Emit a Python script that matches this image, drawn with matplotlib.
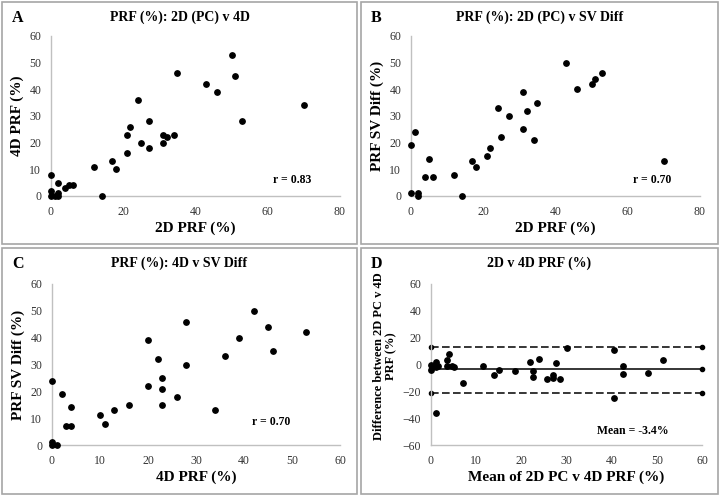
import numpy as np
import matplotlib
matplotlib.use('Agg')
import matplotlib.pyplot as plt
from matplotlib.patches import Rectangle

plt.rcParams['font.family'] = ['Liberation Serif', 'DejaVu Serif']

# panel A: 2D (PC) vs 4D
a_x = [0, 0, 0, 1, 2, 2, 2, 4, 5, 6, 12, 14, 17, 18, 21, 21, 22, 24, 25, 27, 27,
       31, 31, 32, 34, 35, 43, 46, 50, 51, 53, 70]
a_y = [8, 2, 0, 0, 5, 1, 0, 3, 4, 4, 11, 0, 13, 10, 23, 16, 26, 36, 20, 28, 18,
       23, 20, 22, 23, 46, 42, 39, 53, 45, 28, 34]

# panel B: 2D (PC) vs SV Diff
b_x = [0, 0, 1, 2, 2, 4, 5, 6, 12, 14, 17, 18, 21, 22, 24, 25, 27, 31, 31, 32,
       34, 35, 43, 46, 50, 51, 53, 70]
b_y = [1, 19, 24, 1, 0, 7, 14, 7, 8, 0, 13, 11, 15, 18, 33, 22, 30, 39, 25, 32,
       21, 35, 50, 40, 42, 44, 46, 13]

# panel C: 4D vs SV Diff
c_x = [0, 0, 0, 1, 2, 3, 4, 4, 10, 11, 13, 16, 20, 20, 22, 23, 23, 23, 26, 28,
       28, 34, 36, 39, 42, 45, 46, 53]
c_y = [24, 1, 0, 0, 19, 7, 14, 7, 11, 8, 13, 15, 39, 22, 32, 25, 21, 15, 18, 46,
       30, 13, 33, 40, 50, 44, 35, 42]

# panel D: Bland-Altman
d_x = [0, 0, 1.1, 1.1, 1.6, 0.7, 1.1, 3.5, 3.5, 4, 4.6, 5.2, 7, 11.6, 14, 15,
       18.5, 22, 22.5, 22.5, 24, 25.6, 27, 27, 27.6, 28.5, 30, 40.5, 40.5, 42.5,
       42.5, 48, 51.4]
d_y = [0, -4, 2, -2, -1, -1, -36, 3, -1, 8, -1, -2, -14, -1, -8, -4, -5, 2, -5,
       -9, 4, -11, -8, -10, 1, -11, 12, 11, -25, -1, -7, -6, 3]
d_mean = -3.4
d_upper = 13
d_lower = -21.5

W, H = 720, 496
fig = plt.figure(figsize=(W / 100, H / 100), dpi=100)

boxes = [(2, 2, 357, 244), (361, 2, 718, 244), (2, 248, 357, 494), (361, 248, 718, 494)]
titles = ['PRF (%): 2D (PC) v 4D', 'PRF (%): 2D (PC) v SV Diff',
          'PRF (%): 4D v SV Diff', '2D v 4D PRF (%)']

# grey boxes round each panel, titles centred on the box, panel letters
for (x0, y0, x1, y1), title, letter in zip(boxes, titles, 'ABCD'):
    fig.patches.append(Rectangle((x0 / W, 1 - y1 / H), (x1 - x0) / W, (y1 - y0) / H,
                                 transform=fig.transFigure, fill=False,
                                 edgecolor='#a6a6a6', linewidth=1.2))
    fig.text((x0 + x1) / 2 / W, 1 - (y0 + 15) / H, title, fontsize=10,
             fontweight='bold', ha='center', va='center')
    fig.text((x0 + 10) / W, 1 - (y0 + 20) / H, letter, fontsize=11.5, fontweight='bold')


def make_ax(left, right, top, bottom):
    ax = fig.add_axes([left / W, 1 - bottom / H, (right - left) / W, (bottom - top) / H])
    for s in ['top', 'right']:
        ax.spines[s].set_visible(False)
    for s in ['left', 'bottom']:
        ax.spines[s].set_color('#c0c0c0')
        ax.spines[s].set_linewidth(1.0)
    ax.tick_params(length=0, labelsize=8.5, pad=7, colors='#333333')
    return ax


ax_a = make_ax(51, 340, 36, 196)
ax_b = make_ax(411, 700, 36, 196)
ax_c = make_ax(52, 340, 284, 445)
ax_d = make_ax(431, 702, 284, 445)

ms = 15

ax_a.scatter(a_x, a_y, s=ms, color='black', zorder=3, clip_on=False)
ax_a.set_xlim(0, 80)
ax_a.set_ylim(0, 60)
ax_a.set_xticks([0, 20, 40, 60, 80])
ax_a.set_yticks(range(0, 61, 10))
ax_a.set_xlabel('2D PRF (%)', fontsize=11, fontweight='bold', labelpad=3)
ax_a.set_ylabel('4D PRF (%)', fontsize=11, fontweight='bold', labelpad=4)
ax_a.text(61.5, 5, 'r = 0.83', fontsize=8.5, fontweight='bold')

ax_b.scatter(b_x, b_y, s=ms, color='black', zorder=3, clip_on=False)
ax_b.set_xlim(0, 80)
ax_b.set_ylim(0, 60)
ax_b.set_xticks([0, 20, 40, 60, 80])
ax_b.set_yticks(range(0, 61, 10))
ax_b.set_xlabel('2D PRF (%)', fontsize=11, fontweight='bold', labelpad=3)
ax_b.set_ylabel('PRF SV Diff (%)', fontsize=11, fontweight='bold', labelpad=4)
ax_b.text(61.5, 5, 'r = 0.70', fontsize=8.5, fontweight='bold')

ax_c.scatter(c_x, c_y, s=ms, color='black', zorder=3, clip_on=False)
ax_c.set_xlim(0, 60)
ax_c.set_ylim(0, 60)
ax_c.set_xticks(range(0, 61, 10))
ax_c.set_yticks(range(0, 61, 10))
ax_c.set_xlabel('4D PRF (%)', fontsize=11, fontweight='bold', labelpad=3)
ax_c.set_ylabel('PRF SV Diff (%)', fontsize=11, fontweight='bold', labelpad=4)
ax_c.text(41.7, 7.5, 'r = 0.70', fontsize=8.5, fontweight='bold')

ax_d.scatter(d_x, d_y, s=ms, color='black', zorder=3, clip_on=False)
for val, ls in [(d_mean, '-'), (d_upper, (0, (5, 2.2))), (d_lower, (0, (5, 2.2)))]:
    ax_d.plot([0, 60], [val, val], color='black', linestyle=ls, linewidth=1.1,
              marker='o', markersize=3, clip_on=False, zorder=2)
ax_d.set_xlim(0, 60)
ax_d.set_ylim(-60, 60)
ax_d.set_xticks(range(0, 61, 10))
ax_d.set_yticks(range(-60, 61, 20))
ax_d.set_xlabel('Mean of 2D PC v 4D PRF (%)', fontsize=11, fontweight='bold', labelpad=3)
ax_d.set_ylabel('Difference between 2D PC v 4D\nPRF (%)', fontsize=9, fontweight='bold',
                linespacing=1.05)
ax_d.yaxis.set_label_coords(-0.125, 0.55)
ax_d.text(36.7, -52, 'Mean = -3.4%', fontsize=8.5, fontweight='bold')

fig.savefig('out.png', dpi=100)
